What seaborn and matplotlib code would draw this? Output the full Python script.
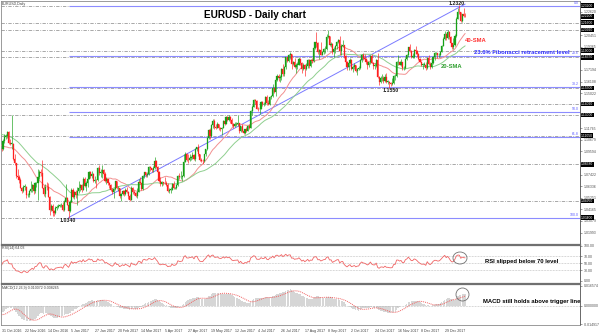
import numpy as np
import pandas as pd
import matplotlib
matplotlib.use("Agg")
import matplotlib.pyplot as plt
import matplotlib.transforms as mtransforms
from matplotlib.patches import Ellipse
import seaborn as sns

sns.set_theme(style="white")
plt.rcParams['font.family'] = ['Liberation Sans', 'DejaVu Sans']

# ---------------- data (EURUSD daily) ----------------
# closes used only to warm up the indicators (Sep 1 - Oct 28 2016)
warmup_close = [1.1195, 1.1155,
                1.1145, 1.1255, 1.1240, 1.1260, 1.1235,
                1.1235, 1.1220, 1.1245, 1.1240, 1.1155,
                1.1170, 1.1155, 1.1190, 1.1210, 1.1225,
                1.1255, 1.1215, 1.1220, 1.1225, 1.1240,
                1.1210, 1.1205, 1.1205, 1.1150, 1.1200,
                1.1145, 1.1055, 1.1005, 1.1055, 1.0970,
                1.1000, 1.1005, 1.0975, 1.0930, 1.0885,
                1.0880, 1.0880, 1.0920, 1.0895, 1.0985]

# displayed bars: 31 Oct 2016 .. 22 Jan 2018 (one row per week)
close = [1.0980, 1.1055, 1.1095, 1.1105, 1.1140,
         1.1040, 1.1030, 1.1030, 1.0890, 1.0850,
         1.0730, 1.0720, 1.0690, 1.0620, 1.0590,
         1.0630, 1.0630, 1.0550, 1.0550, 1.0590,
         1.0610, 1.0640, 1.0590, 1.0660, 1.0665,
         1.0720, 1.0770, 1.0760, 1.0620, 1.0560,
         1.0630, 1.0625, 1.0535, 1.0415, 1.0450,
         1.0400, 1.0380, 1.0430, 1.0440, 1.0450,
         1.0455, 1.0460, 1.0410, 1.0490, 1.0520,
         1.0460, 1.0400, 1.0490, 1.0600, 1.0530,
         1.0575, 1.0555, 1.0585, 1.0615, 1.0640,
         1.0600, 1.0705, 1.0635, 1.0660, 1.0705,
         1.0765, 1.0730, 1.0750, 1.0680, 1.0695,
         1.0690, 1.0800, 1.0760, 1.0760, 1.0785,
         1.0750, 1.0685, 1.0700, 1.0660, 1.0640,
         1.0600, 1.0575, 1.0610, 1.0680, 1.0615,
         1.0615, 1.0540, 1.0560, 1.0590, 1.0560,
         1.0600, 1.0575, 1.0545, 1.0505, 1.0620,
         1.0580, 1.0570, 1.0545, 1.0580, 1.0670,
         1.0660, 1.0605, 1.0730, 1.0765, 1.0740,
         1.0745, 1.0810, 1.0800, 1.0780, 1.0800,
         1.0865, 1.0815, 1.0770, 1.0680, 1.0650,
         1.0670, 1.0665, 1.0660, 1.0645, 1.0590,
         1.0600, 1.0600, 1.0650, 1.0615, 1.0615,
         1.0640, 1.0730, 1.0715, 1.0715, 1.0725,
         1.0860, 1.0930, 1.0880, 1.0875, 1.0895,
         1.0905, 1.0925, 1.0885, 1.0985, 1.0995,
         1.0930, 1.0875, 1.0870, 1.0865, 1.0930,
         1.0980, 1.1085, 1.1160, 1.1100, 1.1205,
         1.1245, 1.1185, 1.1180, 1.1210, 1.1180,
         1.1165, 1.1180, 1.1245, 1.1215, 1.1280,
         1.1255, 1.1280, 1.1255, 1.1210, 1.1195,
         1.1210, 1.1210, 1.1220, 1.1150, 1.1195,
         1.1150, 1.1130, 1.1165, 1.1150, 1.1195,
         1.1180, 1.1335, 1.1375, 1.1440, 1.1425,
         1.1355, 1.1350, 1.1355, 1.1420, 1.1400,
         1.1400, 1.1465, 1.1410, 1.1400, 1.1470,
         1.1475, 1.1555, 1.1515, 1.1630, 1.1665,
         1.1640, 1.1650, 1.1730, 1.1680, 1.1750,
         1.1840, 1.1800, 1.1860, 1.1865, 1.1775,
         1.1790, 1.1750, 1.1770, 1.1770, 1.1820,
         1.1780, 1.1730, 1.1770, 1.1725, 1.1760,
         1.1815, 1.1760, 1.1810, 1.1800, 1.1925,
         1.1980, 1.1970, 1.1890, 1.1905, 1.1860,
         1.1885, 1.1915, 1.1920, 1.2025, 1.2035,
         1.1955, 1.1965, 1.1885, 1.1920, 1.1945,
         1.1985, 1.1995, 1.1895, 1.1940, 1.1950,
         1.1850, 1.1790, 1.1745, 1.1785, 1.1815,
         1.1730, 1.1745, 1.1765, 1.1710, 1.1730,
         1.1735, 1.1810, 1.1860, 1.1830, 1.1820,
         1.1795, 1.1765, 1.1790, 1.1850, 1.1785,
         1.1760, 1.1760, 1.1810, 1.1650, 1.1605,
         1.1640, 1.1645, 1.1620, 1.1655, 1.1610,
         1.1610, 1.1595, 1.1590, 1.1595, 1.1665,
         1.1665, 1.1795, 1.1795, 1.1770, 1.1790,
         1.1735, 1.1735, 1.1825, 1.1855, 1.1930,
         1.1895, 1.1845, 1.1845, 1.1905, 1.1895,
         1.1865, 1.1825, 1.1795, 1.1770, 1.1770,
         1.1770, 1.1740, 1.1830, 1.1775, 1.1750,
         1.1785, 1.1840, 1.1875, 1.1875, 1.1860,
         1.1860, 1.1890, 1.1945, 1.2005,
         1.2060, 1.2015, 1.2070, 1.2030,
         1.1970, 1.1935, 1.1950, 1.2035, 1.2200,
         1.2265, 1.2260, 1.2175, 1.2240, 1.2225,
         1.2220]

high = [1.1000, 1.1075, 1.1125, 1.1125, 1.1145,
        1.1145, 1.1075, 1.1300, 1.1040, 1.0935,
        1.0850, 1.0790, 1.0740, 1.0710, 1.0630,
        1.0640, 1.0650, 1.0635, 1.0570, 1.0600,
        1.0685, 1.0655, 1.0650, 1.0670, 1.0675,
        1.0795, 1.0780, 1.0795, 1.0875, 1.0640,
        1.0650, 1.0670, 1.0660, 1.0540, 1.0470,
        1.0465, 1.0415, 1.0445, 1.0460, 1.0470,
        1.0465, 1.0475, 1.0485, 1.0500, 1.0650,
        1.0530, 1.0465, 1.0500, 1.0615, 1.0620,
        1.0585, 1.0595, 1.0630, 1.0685, 1.0655,
        1.0650, 1.0715, 1.0720, 1.0685, 1.0710,
        1.0775, 1.0775, 1.0775, 1.0760, 1.0725,
        1.0705, 1.0810, 1.0830, 1.0790, 1.0830,
        1.0790, 1.0765, 1.0715, 1.0705, 1.0675,
        1.0655, 1.0615, 1.0615, 1.0680, 1.0680,
        1.0635, 1.0620, 1.0570, 1.0600, 1.0600,
        1.0615, 1.0630, 1.0590, 1.0560, 1.0635,
        1.0625, 1.0600, 1.0580, 1.0615, 1.0700,
        1.0715, 1.0665, 1.0740, 1.0765, 1.0770,
        1.0765, 1.0820, 1.0825, 1.0805, 1.0820,
        1.0905, 1.0875, 1.0825, 1.0775, 1.0715,
        1.0680, 1.0675, 1.0720, 1.0680, 1.0665,
        1.0615, 1.0625, 1.0665, 1.0680, 1.0625,
        1.0655, 1.0740, 1.0755, 1.0775, 1.0740,
        1.0935, 1.0950, 1.0945, 1.0935, 1.0935,
        1.0920, 1.0950, 1.0935, 1.0990, 1.1000,
        1.1025, 1.0935, 1.0895, 1.0890, 1.0935,
        1.0985, 1.1090, 1.1170, 1.1175, 1.1210,
        1.1260, 1.1265, 1.1215, 1.1230, 1.1215,
        1.1190, 1.1190, 1.1255, 1.1255, 1.1285,
        1.1285, 1.1295, 1.1285, 1.1270, 1.1225,
        1.1230, 1.1230, 1.1295, 1.1225, 1.1200,
        1.1210, 1.1165, 1.1170, 1.1185, 1.1205,
        1.1215, 1.1345, 1.1390, 1.1445, 1.1445,
        1.1435, 1.1370, 1.1375, 1.1430, 1.1425,
        1.1420, 1.1480, 1.1490, 1.1435, 1.1480,
        1.1490, 1.1585, 1.1560, 1.1640, 1.1680,
        1.1680, 1.1675, 1.1735, 1.1775, 1.1760,
        1.1845, 1.1845, 1.1865, 1.1890, 1.1870,
        1.1805, 1.1830, 1.1780, 1.1790, 1.1845,
        1.1830, 1.1790, 1.1780, 1.1775, 1.1780,
        1.1825, 1.1825, 1.1820, 1.1830, 1.1940,
        1.1985, 1.2070, 1.1980, 1.1915, 1.1980,
        1.1900, 1.1925, 1.1945, 1.2060, 1.2092,
        1.2040, 1.1985, 1.1970, 1.1930, 1.1950,
        1.1990, 1.2005, 1.2035, 1.1960, 1.2000,
        1.1955, 1.1860, 1.1800, 1.1795, 1.1835,
        1.1820, 1.1765, 1.1780, 1.1770, 1.1735,
        1.1760, 1.1825, 1.1865, 1.1880, 1.1870,
        1.1830, 1.1805, 1.1795, 1.1860, 1.1865,
        1.1790, 1.1780, 1.1820, 1.1880, 1.1665,
        1.1665, 1.1680, 1.1660, 1.1685, 1.1690,
        1.1630, 1.1620, 1.1610, 1.1640, 1.1670,
        1.1680, 1.1800, 1.1860, 1.1805, 1.1820,
        1.1795, 1.1760, 1.1835, 1.1865, 1.1935,
        1.1960, 1.1905, 1.1880, 1.1915, 1.1940,
        1.1910, 1.1875, 1.1835, 1.1805, 1.1785,
        1.1790, 1.1795, 1.1835, 1.1860, 1.1790,
        1.1800, 1.1850, 1.1885, 1.1890, 1.1880,
        1.1875, 1.1895, 1.1950, 1.2025,
        1.2080, 1.2065, 1.2090, 1.2080,
        1.2035, 1.1975, 1.2015, 1.2060, 1.2215,
        1.2295, 1.2323, 1.2265, 1.2240, 1.2295,
        1.2250]

low = [1.0960, 1.0970, 1.1040, 1.1070, 1.1085,
       1.1030, 1.1020, 1.0985, 1.0875, 1.0835,
       1.0710, 1.0700, 1.0665, 1.0615, 1.0570,
       1.0580, 1.0600, 1.0520, 1.0530, 1.0535,
       1.0580, 1.0580, 1.0560, 1.0570, 1.0630,
       1.0505, 1.0700, 1.0730, 1.0615, 1.0545,
       1.0530, 1.0600, 1.0530, 1.0365, 1.0405,
       1.0350, 1.0350, 1.0375, 1.0415, 1.0430,
       1.0440, 1.0440, 1.0400, 1.0405, 1.0485,
       1.0455, 1.0340, 1.0390, 1.0485, 1.0520,
       1.0515, 1.0525, 1.0455, 1.0570, 1.0590,
       1.0580, 1.0595, 1.0630, 1.0585, 1.0630,
       1.0700, 1.0710, 1.0710, 1.0675, 1.0665,
       1.0620, 1.0685, 1.0740, 1.0715, 1.0710,
       1.0720, 1.0675, 1.0650, 1.0645, 1.0620,
       1.0590, 1.0560, 1.0520, 1.0600, 1.0605,
       1.0590, 1.0520, 1.0495, 1.0550, 1.0540,
       1.0555, 1.0565, 1.0510, 1.0495, 1.0500,
       1.0560, 1.0555, 1.0535, 1.0525, 1.0575,
       1.0650, 1.0600, 1.0600, 1.0710, 1.0720,
       1.0715, 1.0735, 1.0775, 1.0765, 1.0770,
       1.0795, 1.0800, 1.0740, 1.0675, 1.0635,
       1.0635, 1.0640, 1.0650, 1.0635, 1.0580,
       1.0570, 1.0570, 1.0595, 1.0610, 1.0605,
       1.0610, 1.0635, 1.0700, 1.0700, 1.0680,
       1.0720, 1.0855, 1.0865, 1.0850, 1.0865,
       1.0880, 1.0890, 1.0875, 1.0870, 1.0960,
       1.0920, 1.0865, 1.0860, 1.0840, 1.0860,
       1.0920, 1.0970, 1.1075, 1.1075, 1.1095,
       1.1175, 1.1165, 1.1165, 1.1175, 1.1160,
       1.1145, 1.1110, 1.1175, 1.1205, 1.1210,
       1.1240, 1.1245, 1.1225, 1.1195, 1.1180,
       1.1185, 1.1195, 1.1195, 1.1130, 1.1140,
       1.1140, 1.1120, 1.1120, 1.1135, 1.1145,
       1.1165, 1.1180, 1.1300, 1.1370, 1.1400,
       1.1350, 1.1335, 1.1310, 1.1350, 1.1385,
       1.1385, 1.1390, 1.1395, 1.1390, 1.1390,
       1.1445, 1.1465, 1.1500, 1.1480, 1.1615,
       1.1620, 1.1610, 1.1625, 1.1660, 1.1665,
       1.1730, 1.1795, 1.1795, 1.1820, 1.1730,
       1.1765, 1.1735, 1.1690, 1.1725, 1.1765,
       1.1770, 1.1690, 1.1715, 1.1660, 1.1715,
       1.1740, 1.1740, 1.1745, 1.1785, 1.1790,
       1.1920, 1.1935, 1.1865, 1.1825, 1.1855,
       1.1855, 1.1870, 1.1880, 1.1905, 1.2020,
       1.1945, 1.1935, 1.1870, 1.1840, 1.1875,
       1.1915, 1.1970, 1.1860, 1.1860, 1.1935,
       1.1835, 1.1770, 1.1720, 1.1715, 1.1775,
       1.1715, 1.1700, 1.1730, 1.1705, 1.1670,
       1.1715, 1.1730, 1.1795, 1.1815, 1.1805,
       1.1775, 1.1730, 1.1750, 1.1775, 1.1780,
       1.1725, 1.1730, 1.1750, 1.1640, 1.1575,
       1.1595, 1.1620, 1.1600, 1.1605, 1.1600,
       1.1590, 1.1555, 1.1565, 1.1575, 1.1585,
       1.1630, 1.1655, 1.1770, 1.1765, 1.1760,
       1.1720, 1.1715, 1.1725, 1.1810, 1.1845,
       1.1890, 1.1835, 1.1830, 1.1830, 1.1870,
       1.1845, 1.1815, 1.1790, 1.1760, 1.1730,
       1.1755, 1.1715, 1.1730, 1.1765, 1.1730,
       1.1740, 1.1775, 1.1815, 1.1860, 1.1835,
       1.1845, 1.1850, 1.1885, 1.1940,
       1.2000, 1.2000, 1.2010, 1.2005,
       1.1960, 1.1915, 1.1915, 1.1945, 1.2030,
       1.2195, 1.2245, 1.2165, 1.2165, 1.2210,
       1.2210]

date_labels = ["31 Oct 2016", "22 Nov 2016", "14 Dec 2016", "5 Jan 2017",
               "27 Jan 2017", "20 Feb 2017", "14 Mar 2017", "5 Apr 2017",
               "27 Apr 2017", "19 May 2017", "12 Jun 2017", "4 Jul 2017",
               "26 Jul 2017", "17 Aug 2017", "8 Sep 2017", "2 Oct 2017",
               "24 Oct 2017", "16 Nov 2017", "8 Dec 2017", "29 Dec 2017"]
date_step = 16

swing_high, swing_low = 1.2320, 1.0340
swing_low_bar = 46
fib_ratios = [0.0, 23.6, 38.2, 50.0, 61.8, 100.0]
fib_names = ["0.0", "23.6", "38.2", "50.0", "61.8", "100.0"]
sr_levels = [1.2320, 1.2160, 1.2092, 1.1900, 1.1837, 1.1550,
             1.1402, 1.1300, 1.1105, 1.0838, 1.0495, 1.0340]
current_price = 1.2220
trend_x = [46, 318]
trend_y = [1.0340, 1.2335]
# grey price-scale labels that are not hidden behind a level box
price_ticks = [1.22620, 1.20451, 1.19365, 1.17194, 1.16108,
               1.15022, 1.11765, 1.10679, 1.09594,
               1.07422, 1.06336, 1.05251, 1.04165, 1.03079, 1.01993]
rsi_ticks = [100, 70, 50, 30, 0]
rsi_levels = [70, 50, 30]
macd_ticks = [0.016574, 0.0, -0.014917]

# ---------------- indicators ----------------
full = pd.Series(warmup_close + close)
nw = len(warmup_close)
c = np.array(close)
o = np.array([warmup_close[-1]] + close[:-1])
hi = np.array(high)
lo = np.array(low)
n = len(c)
x = np.arange(n)

sma20 = full.rolling(20).mean().values[nw:]
sma40 = full.rolling(40).mean().values[nw:]

d = full.diff().values
g = np.where(d > 0, d, 0.0)
l = np.where(d < 0, -d, 0.0)
ag = np.full(len(full), np.nan)
al = np.full(len(full), np.nan)
ag[14] = g[1:15].mean()
al[14] = l[1:15].mean()
for i in range(15, len(full)):
    ag[i] = (ag[i - 1] * 13 + g[i]) / 14
    al[i] = (al[i - 1] * 13 + l[i]) / 14
rsi = (100 - 100 / (1 + ag / al))[nw:]

ema12 = full.ewm(span=12, adjust=False).mean()
ema26 = full.ewm(span=26, adjust=False).mean()
macd_s = ema12 - ema26
signal_s = macd_s.rolling(9).mean()
macd = macd_s.values[nw:]
signal = signal_s.values[nw:]

# ---------------- layout ----------------
W, H = 600, 334
fig = plt.figure(figsize=(6, 3.34), dpi=100)
fig.patch.set_facecolor("white")


def rect(x0, y0, x1, y1):
    return [x0 / W, 1 - y1 / H, (x1 - x0) / W, (y1 - y0) / H]


def fpos(px, py):
    return px / W, 1 - py / H


PX_BAR = 1.458
X0 = 1.5
AXL, AXR = 1, 580
xlim = ((AXL - X0) / PX_BAR, (AXR - X0) / PX_BAR)


def price_at(py):
    return 1.2320 - (py - 5.7) / 1070.0


ax = fig.add_axes(rect(AXL, 1, AXR, 244))
ax_rsi = fig.add_axes(rect(AXL, 245, AXR, 283))
ax_macd = fig.add_axes(rect(AXL, 284, AXR, 325))

grid_c = "#9a9a9a"
for a in (ax, ax_rsi, ax_macd):
    a.set_facecolor("white")
    a.set_xlim(*xlim)
    for s in a.spines.values():
        s.set_color("#8a8a8a")
        s.set_linewidth(0.6)
    a.spines["right"].set_color("#505050")
    a.yaxis.tick_right()
    a.tick_params(axis="y", length=1.5, width=0.4, pad=1, labelsize=2.5,
                  colors="#505050", direction="out")
    a.set_xticks([])
    a.grid(False)
ax.spines["bottom"].set_color("#707070")
ax.spines["bottom"].set_linewidth(0.9)
ax_rsi.spines["top"].set_color("#707070")
ax_rsi.spines["top"].set_linewidth(0.9)
ax_rsi.spines["bottom"].set_color("#707070")
ax_rsi.spines["bottom"].set_linewidth(0.9)
ax_macd.spines["top"].set_color("#707070")
ax_macd.spines["top"].set_linewidth(0.9)

# ---------------- main price panel ----------------
ax.set_ylim(price_at(244), price_at(1))
dash = (0, (4, 1.6, 1, 1.6))
for lv in sr_levels:
    ax.axhline(lv, color=grid_c, lw=0.6, ls=dash, zorder=1)

fib_levels = [swing_high - r / 100 * (swing_high - swing_low) for r in fib_ratios]
ax.hlines(fib_levels, swing_low_bar, xlim[1], color="#8c8cff", lw=0.8, zorder=2)
blend = mtransforms.blended_transform_factory(ax.transAxes, ax.transData)
for lv, nm in zip(fib_levels, fib_names):
    ax.text(0.998, lv + 0.0004, nm, transform=blend, ha="right", va="bottom",
            fontsize=2.5, color="#5a5aff", zorder=6)

ax.plot(trend_x, trend_y, color="#7a7aff", lw=0.7, zorder=2)

sns.lineplot(x=x, y=sma20, ax=ax, color="#f29090", lw=0.7, estimator=None,
             sort=False, zorder=3)
sns.lineplot(x=x, y=sma40, ax=ax, color="#8fcf8f", lw=0.7, estimator=None,
             sort=False, zorder=3)

bull, bear = "#16a016", "#ff1e1e"
cols = np.where(c >= o, bull, bear)
ax.vlines(x, lo, hi, colors=cols, lw=0.45, zorder=4)
body_b = np.minimum(o, c)
body_h = np.maximum(np.abs(c - o), 0.00025)
ax.bar(x, body_h, bottom=body_b, width=0.78, color=cols, edgecolor=cols,
       linewidth=0.2, zorder=5)

ax.set_yticks(price_ticks)
ax.set_yticklabels([f"{v:.5f}" for v in price_ticks])
box_levels = sr_levels + [current_price]
for lv in box_levels:
    ax.text(1.002, lv, f"{lv:.5f}", transform=blend, ha="left", va="center",
            fontsize=2.4, color="white", zorder=7, clip_on=False,
            bbox=dict(facecolor="black", edgecolor="none", pad=0.25))

# ---------------- RSI panel ----------------
ax_rsi.set_ylim(-6.6, 102)
for lv in rsi_levels:
    ax_rsi.axhline(lv, color="#b0b0b0", lw=0.5, ls=(0, (1, 1.2)))
sns.lineplot(x=x, y=rsi, ax=ax_rsi, color="#f06464", lw=0.6, estimator=None,
             sort=False)
ax_rsi.set_yticks(rsi_ticks)
ax_rsi.set_yticklabels([f"{v:.2f}" for v in rsi_ticks])
ax_rsi.set_xlabel("")
ax_rsi.set_ylabel("")

# ---------------- MACD panel ----------------
ax_macd.set_ylim(-0.015745, 0.018231)
ax_macd.axhline(0, color="#b0b0b0", lw=0.5, ls=(0, (1, 1.2)))
ax_macd.bar(x, macd, width=0.9, color="#d6d6d6", edgecolor="none")
sns.lineplot(x=x, y=signal, ax=ax_macd, color="#f06060", lw=0.7,
             estimator=None, sort=False, linestyle=(0, (1, 1)))
ax_macd.set_yticks(macd_ticks)
ax_macd.set_yticklabels([f"{v:.6f}" for v in macd_ticks])
ax_macd.set_xticks(np.arange(len(date_labels)) * date_step)
ax_macd.set_xticklabels(date_labels, ha="left")
ax_macd.tick_params(axis="x", length=1.5, width=0.4, pad=1.2, labelsize=2.6,
                    colors="#404040", direction="out")
ax_macd.set_xlabel("")
ax_macd.set_ylabel("")
ax.set_xlabel("")
ax.set_ylabel("")

# ---------------- texts ----------------
fig.text(*fpos(2, 4), "EURUSD,Daily", fontsize=2.6, color="#404040", va="center")
fig.text(*fpos(2, 248), "RSI(14) 64.03", fontsize=2.6, color="#404040", va="center")
fig.text(*fpos(2, 287.5), f"MACD(12,26,9) {macd[-1]:.6f} {signal[-1]:.6f}",
         fontsize=2.6, color="#404040", va="center")

fig.text(*fpos(255, 15), "EURUSD - Daily chart", fontsize=7.2,
         fontweight="bold", color="black", ha="center", va="center")
fig.text(*fpos(457, 3.6), "1.2320", fontsize=3.8, fontweight="bold",
         color="#202020", ha="center", va="center")
fig.text(*fpos(391, 90), "1.1550", fontsize=3.8, fontweight="bold",
         color="#202020", ha="center", va="center")
fig.text(*fpos(68, 220.5), "1.0340", fontsize=3.8, fontweight="bold",
         color="#202020", ha="center", va="center")
fig.text(*fpos(476, 40), "40-SMA", fontsize=4.2, fontweight="bold",
         color="#ff3030", ha="center", va="center")
fig.text(*fpos(452, 66), "20-SMA", fontsize=4.2, fontweight="bold",
         color="#2e9e2e", ha="center", va="center")
fig.text(*fpos(522, 52), "23.6% Fibonacci retracement level", fontsize=4.2,
         fontweight="bold", color="#2f2fff", ha="center", va="center")
fig.text(*fpos(522, 262), "RSI slipped below 70 level", fontsize=4.2,
         fontweight="bold", color="black", ha="center", va="center")
fig.text(*fpos(532, 302), "MACD still holds above trigger line", fontsize=4.2,
         fontweight="bold", color="black", ha="center", va="center")

for cx, cy, w, h in [(460, 258, 14, 12), (462.5, 294.5, 13, 13)]:
    e = Ellipse(fpos(cx, cy), w / W, h / H, transform=fig.transFigure,
                fill=False, edgecolor="#707070", lw=0.6)
    fig.add_artist(e)

fig.savefig("out.png", dpi=100, facecolor="white")
